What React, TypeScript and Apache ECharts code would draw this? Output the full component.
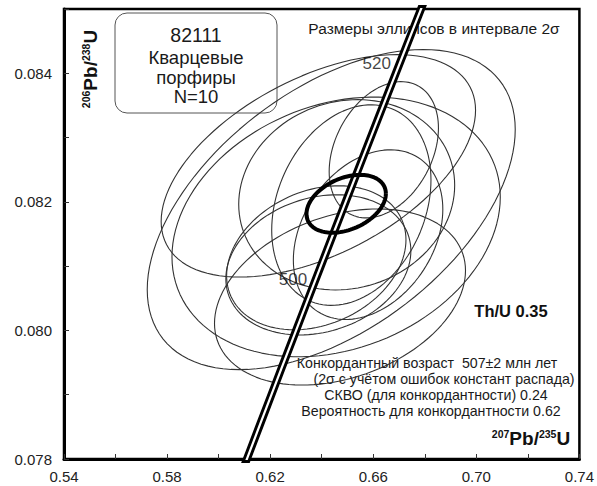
import React, { useEffect, useRef } from "react";
import * as echarts from "echarts";

// Axis ranges and tick/label values
const X_MIN = 0.54;
const X_MAX = 0.74;
const Y_MIN = 0.078;
const Y_MAX = 0.085;
const xTickValues = [0.54, 0.56, 0.58, 0.6, 0.62, 0.64, 0.66, 0.68, 0.7, 0.72, 0.74];
const xLabelValues = [0.54, 0.58, 0.62, 0.66, 0.7, 0.74];
const yTickValues = [0.078, 0.079, 0.08, 0.081, 0.082, 0.083, 0.084, 0.085];
const yLabelValues = [0.078, 0.08, 0.082, 0.084];

// Analysis ellipses (2σ): centre 207Pb/235U, centre 206Pb/238U, 2σ errors, correlation
const ellX = [0.6437, 0.6387, 0.6456, 0.6471, 0.6641, 0.6497, 0.6515, 0.6387, 0.6379, 0.658];
const ellY = [0.08188, 0.08256, 0.08161, 0.08052, 0.08281, 0.08211, 0.08195, 0.08102, 0.08113, 0.08149];
const ellEx = [0.0714, 0.061, 0.0637, 0.0487, 0.0212, 0.0419, 0.0309, 0.0359, 0.0348, 0.029];
const ellEy = [0.00249, 0.00173, 0.00202, 0.00137, 0.00106, 0.00148, 0.00156, 0.00109, 0.00112, 0.00132];
const ellRho = [0.5, 0.5, 0.23, 0.3, 0.32, 0.1, 0.25, 0.2, 0.25, 0.3];

// Concordia age ellipse
const concX = 0.6495;
const concY = 0.08197;
const concEx = 0.0154;
const concEy = 0.00045;
const concRho = 0.35;

// Concordia curve (ages in Ma) and labelled ages
const L235 = 9.8485e-10;
const L238 = 1.55125e-10;
const concordiaAges = [470, 475, 480, 485, 490, 495, 500, 505, 510, 515, 520, 525, 530, 535, 540];
const labelledAges = [500, 520];

const FONT = '"Liberation Sans", Arial, sans-serif';

function ellipsePoints(cx: number, cy: number, ex: number, ey: number, rho: number) {
  const pts: number[][] = [];
  const n = 120;
  const s = Math.sqrt(1 - rho * rho);
  for (let i = 0; i <= n; i++) {
    const t = (i / n) * Math.PI * 2;
    pts.push([cx + ex * Math.cos(t), cy + ey * (rho * Math.cos(t) + s * Math.sin(t))]);
  }
  return pts;
}

function concordiaPoint(ageMa: number) {
  const t = ageMa * 1e6;
  return [Math.exp(L235 * t) - 1, Math.exp(L238 * t) - 1];
}

export default function App() {
  const ref = useRef<HTMLDivElement>(null);

  useEffect(() => {
    document.body.style.margin = "0";
    const chart = echarts.init(ref.current!, undefined, { renderer: "svg" });

    const ellipseSeries = ellX.map((_, i) => ({
      type: "line",
      data: ellipsePoints(ellX[i], ellY[i], ellEx[i], ellEy[i], ellRho[i]),
      showSymbol: false,
      symbol: "none",
      silent: true,
      lineStyle: { color: "#333", width: 1.1 },
      z: 2,
    }));

    const concPts = concordiaAges.map(concordiaPoint);

    const textStyle = (text: string, size: number, extra: any = {}) => ({
      text,
      fontSize: size,
      fontFamily: FONT,
      fill: "#1a1a1a",
      align: "center",
      verticalAlign: "middle",
      ...extra,
    });

    const richTitle = (a: string, b: string) => ({
      text: `{s|${a}}{b|Pb/}{s|${b}}{b|U}`,
      align: "center",
      verticalAlign: "middle",
      fill: "#111",
      rich: {
        s: { fontSize: 10.5, fontWeight: "bold", fontFamily: FONT, verticalAlign: "top", fill: "#111" },
        b: { fontSize: 19, fontWeight: "bold", fontFamily: FONT, fill: "#111" },
      },
    });

    chart.setOption({
      animation: false,
      grid: {
        left: 64,
        right: 15,
        top: 9,
        bottom: 27,
        show: true,
        borderColor: "#000",
        borderWidth: 2.5,
        backgroundColor: "transparent",
      },
      xAxis: {
        type: "value",
        min: X_MIN,
        max: X_MAX,
        axisLine: { show: true, lineStyle: { color: "#000", width: 3 } },
        axisTick: {
          show: true,
          inside: true,
          length: 5,
          customValues: xTickValues,
          lineStyle: { color: "#333", width: 1 },
        },
        axisLabel: {
          customValues: xLabelValues,
          formatter: (v: number) => v.toFixed(2),
          color: "#222",
          fontSize: 15,
          fontFamily: FONT,
          margin: 10,
          showMaxLabel: true,
          showMinLabel: true,
        },
        splitLine: { show: false },
      },
      yAxis: {
        type: "value",
        min: Y_MIN,
        max: Y_MAX,
        axisLine: { show: true, lineStyle: { color: "#000", width: 3 } },
        axisTick: {
          show: true,
          inside: true,
          length: 5,
          customValues: yTickValues,
          lineStyle: { color: "#333", width: 1 },
        },
        axisLabel: {
          customValues: yLabelValues,
          formatter: (v: number) => v.toFixed(3),
          color: "#222",
          fontSize: 15,
          fontFamily: FONT,
          margin: 12,
        },
        splitLine: { show: false },
      },
      series: [
        ...ellipseSeries,
        {
          type: "line",
          data: concPts,
          showSymbol: false,
          symbol: "none",
          silent: true,
          smooth: true,
          lineStyle: { color: "#000", width: 8 },
          z: 3,
        },
        {
          type: "line",
          data: concPts,
          showSymbol: false,
          symbol: "none",
          silent: true,
          smooth: true,
          lineStyle: { color: "#fff", width: 2.2 },
          z: 4,
        },
        {
          type: "line",
          data: ellipsePoints(concX, concY, concEx, concEy, concRho),
          showSymbol: false,
          symbol: "none",
          silent: true,
          lineStyle: { color: "#000", width: 4 },
          z: 5,
        },
        {
          type: "scatter",
          data: labelledAges.map((a) => [...concordiaPoint(a), a]),
          symbolSize: 0,
          silent: true,
          z: 6,
          label: {
            show: true,
            formatter: (p: any) => String(p.value[2]),
            position: [-5, -1],
            align: "right",
            verticalAlign: "bottom",
            color: "#111",
            fontSize: 17,
            fontFamily: FONT,
          },
        },
      ],
      graphic: [
        {
          type: "rect",
          shape: { x: 115, y: 13, width: 162, height: 100, r: 12 },
          style: { fill: "none", stroke: "#555", lineWidth: 1 },
        },
        { type: "text", x: 196, y: 35, style: textStyle("82111", 19.5) },
        { type: "text", x: 196, y: 57, style: textStyle("Кварцевые", 18.5) },
        { type: "text", x: 196, y: 77, style: textStyle("порфиры", 18.5) },
        { type: "text", x: 196, y: 96, style: textStyle("N=10", 18.5) },
        { type: "text", x: 434, y: 28, style: textStyle("Размеры эллипсов в интервале 2σ", 15.5) },
        { type: "text", x: 511, y: 311, style: textStyle("Th/U 0.35", 16.5, { fontWeight: "bold", fill: "#111" }) },
        { type: "text", x: 427, y: 363, style: textStyle("Конкордантный возраст  507±2 млн лет", 14.2) },
        { type: "text", x: 444, y: 379, style: textStyle("(2σ с учётом ошибок констант распада)", 14.2) },
        { type: "text", x: 436, y: 395, style: textStyle("СКВО (для конкордантности) 0.24", 14.2) },
        { type: "text", x: 431, y: 411, style: textStyle("Вероятность для конкордантности 0.62", 14.2) },
        { type: "text", x: 531, y: 438, style: richTitle("207", "235") },
        { type: "text", x: 90, y: 69, rotation: Math.PI / 2, style: richTitle("206", "238") },
      ],
    });

    return () => chart.dispose();
  }, []);

  return <div ref={ref} style={{ width: 597, height: 486 }} />;
}
